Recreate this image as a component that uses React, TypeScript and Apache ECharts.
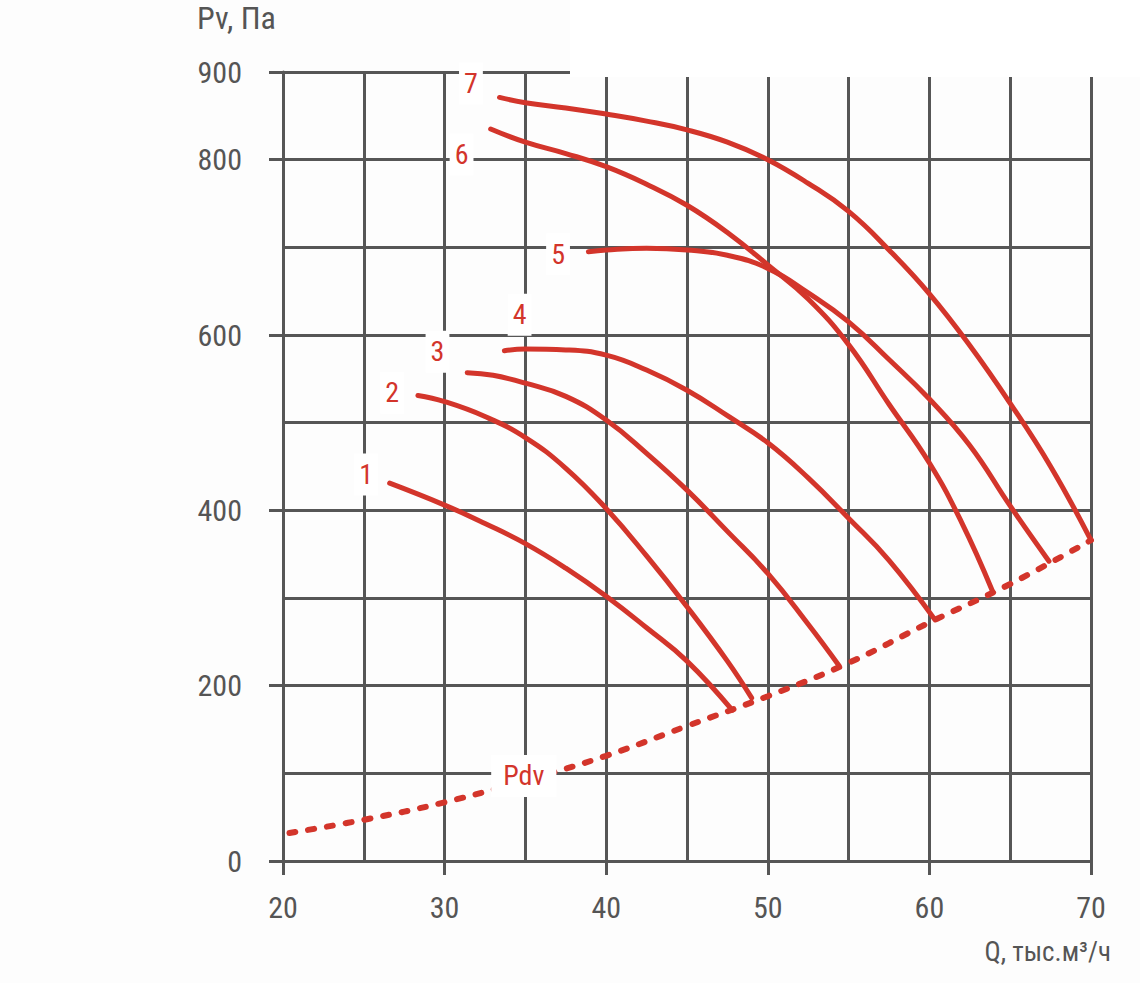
import React, { useEffect, useRef } from "react";
import * as echarts from "echarts";

const xTickValues = [20, 30, 40, 50, 60, 70];
const yTickValues = [0, 200, 400, 600, 800, 900];

const curve1 = [[26.6, 431], [30, 406], [32.5, 385], [35, 362], [37.5, 334], [40, 302], [42.5, 266], [45, 228], [47.8, 172]];
const curve2 = [[28.35, 531], [30, 524], [32.5, 507], [35, 483], [37.5, 448], [40, 402], [42.5, 348], [45, 290], [47.5, 228], [49, 186]];
const curve3 = [[31.4, 557], [33, 554], [35, 545], [37.5, 530], [40, 503], [42.5, 465], [45, 423], [47.5, 376], [50, 328], [52.5, 270], [54.4, 223]];
const curve4 = [[33.7, 582], [35, 584], [37.5, 583], [40, 577], [42.5, 560], [45, 537], [47.5, 508], [50, 477], [52.5, 437], [55, 391], [57.5, 343], [60.35, 275]];
const curve5 = [[38.9, 695], [40, 697], [42.5, 699], [45, 697], [47.5, 691], [50, 676], [52.5, 648], [55, 615], [57.5, 572], [60, 527], [62.5, 474], [65, 405], [67.4, 342]];
const curve6 = [[32.85, 835], [35, 820], [37.5, 807], [40, 792], [42.5, 772], [45, 748], [47.5, 717], [50, 680], [52.5, 641], [55, 589], [57.5, 521], [60, 454], [62, 386], [63.9, 308]];
const curve7 = [[33.4, 871], [35, 865], [37.5, 859], [40, 852], [42.5, 844], [45, 834], [47.5, 820], [50, 800], [52.5, 773], [55, 741], [57.5, 697], [60, 647], [62.5, 588], [65, 522], [67.5, 450], [69.94, 368]];
const pdv = [[20.4, 32], [25, 47], [30, 67], [35, 92], [40, 120], [45, 154], [50, 188], [55, 226], [60, 272], [65, 316], [70, 366]];

const curves = [curve1, curve2, curve3, curve4, curve5, curve6, curve7];
const curveNames = ["1", "2", "3", "4", "5", "6", "7"];

const labelNames = ["1", "2", "3", "4", "5", "6", "7", "Pdv"];
const labelX = [25.14, 26.75, 29.56, 34.64, 37.02, 31.05, 31.63, 34.9];
const labelY = [441, 534, 581, 623, 692, 806, 887, 97];

const yAxisTitle = "Pv, Па";
const xAxisTitle = "Q, тыс.м³/ч";

const RED = "#d3352b";
const GRID = "#565656";
const TEXT = "#555555";
const FONT = "'Roboto Condensed','Liberation Sans Narrow','DejaVu Sans Condensed',Roboto,sans-serif";

export default function App() {
  const ref = useRef<HTMLDivElement>(null);

  useEffect(() => {
    document.body.style.margin = "0";
    const chart = echarts.init(ref.current!, null, { renderer: "svg" });

    const lineSeries = curves.map((c, i) => ({
      type: "line",
      name: curveNames[i],
      data: c,
      smooth: 0.45,
      showSymbol: false,
      symbol: "none",
      lineStyle: { color: RED, width: 5, cap: "round", join: "round" },
      z: 3,
    }));

    const labelData = labelNames.map((n, i) => ({
      name: n,
      value: [labelX[i], labelY[i]],
      label: n === "Pdv" ? { padding: [7, 12] } : undefined,
    }));

    const gridLine = { color: GRID, width: 3 };

    const option: any = {
      animation: false,
      backgroundColor: "#fdfdfd",
      grid: { left: 283, right: 49, top: 72, bottom: 122 },
      xAxis: [
        {
          type: "value",
          position: "bottom",
          min: 20,
          max: 70,
          interval: 5,
          axisLine: { show: true, lineStyle: gridLine },
          axisTick: { show: false },
          axisLabel: { show: false },
          splitLine: { show: true, lineStyle: gridLine },
        },
        {
          type: "value",
          position: "bottom",
          min: 20,
          max: 70,
          interval: 10,
          axisLine: { show: false },
          axisTick: { show: true, length: 14, customValues: xTickValues, lineStyle: gridLine },
          axisLabel: { customValues: xTickValues, margin: 31, fontSize: 30, color: TEXT, fontFamily: FONT },
          splitLine: { show: false },
        },
      ],
      yAxis: [
        {
          type: "value",
          position: "left",
          min: 0,
          max: 900,
          interval: 100,
          axisLine: { show: true, lineStyle: gridLine },
          axisTick: { show: false },
          axisLabel: { show: false },
          splitLine: { show: true, lineStyle: gridLine },
        },
        {
          type: "value",
          position: "left",
          min: 0,
          max: 900,
          interval: 100,
          axisLine: { show: false },
          axisTick: { show: true, length: 14, customValues: yTickValues, lineStyle: gridLine },
          axisLabel: { customValues: yTickValues, margin: 41, fontSize: 30, color: TEXT, fontFamily: FONT },
          splitLine: { show: false },
        },
      ],
      series: [
        ...lineSeries,
        {
          type: "line",
          name: "Pdv",
          data: pdv,
          smooth: 0.45,
          showSymbol: false,
          symbol: "none",
          lineStyle: { color: RED, width: 6, type: [6, 13], cap: "round" },
          z: 3,
        },
        {
          type: "scatter",
          data: labelData,
          symbolSize: 0,
          z: 10,
          itemStyle: { opacity: 1, color: RED },
          emphasis: { disabled: true },
          label: {
            show: true,
            position: "inside",
            formatter: "{b}",
            color: RED,
            opacity: 1,
            fontSize: 28,
            fontFamily: FONT,
            backgroundColor: "#ffffff",
            padding: [7, 5],
          },
        },
      ],
      graphic: [
        { type: "rect", z: 50, shape: { x: 570, y: 0, width: 570, height: 77 }, style: { fill: "#ffffff" } },
        {
          type: "text",
          z: 50,
          x: 197,
          y: 18,
          style: { text: yAxisTitle, fontSize: 32, fill: TEXT, fontFamily: FONT, verticalAlign: "middle", align: "left" },
        },
        {
          type: "text",
          z: 50,
          x: 1111,
          y: 952,
          style: { text: xAxisTitle, fontSize: 27, fill: TEXT, fontFamily: FONT, verticalAlign: "middle", align: "right" },
        },
      ],
    };

    chart.setOption(option);
    return () => chart.dispose();
  }, []);

  return <div ref={ref} style={{ width: 1140, height: 983 }} />;
}
